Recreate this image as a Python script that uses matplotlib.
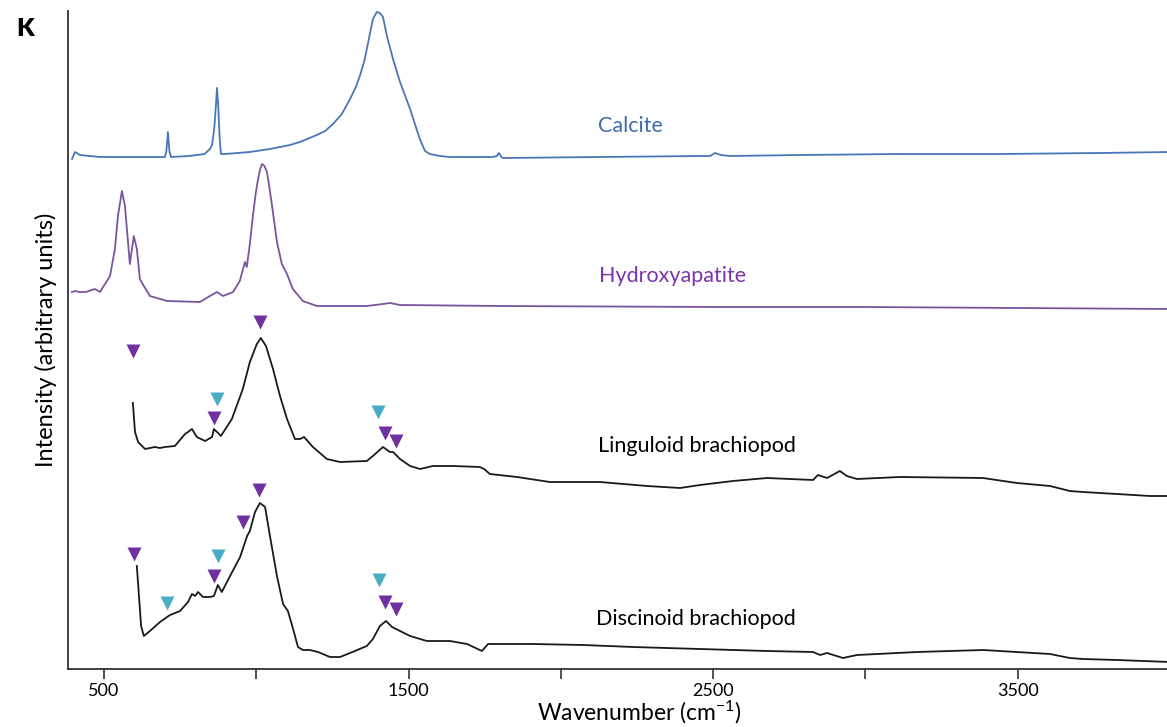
import matplotlib
matplotlib.use("Agg")
import matplotlib.pyplot as plt

plt.rcParams['font.family'] = ['Lato', 'DejaVu Sans']
plt.rcParams['mathtext.fontset'] = 'custom'
plt.rcParams['mathtext.rm'] = 'Lato'
plt.rcParams['mathtext.it'] = 'Lato:italic'

# ---------------- data (wavenumber, intensity in arbitrary units) ----------------
calcite_wn = [395, 405, 421, 487, 585, 684, 700, 705, 710, 715, 720, 780, 830, 848, 855, 862,
              868, 871, 875, 880, 884, 897, 979, 1045, 1111, 1143, 1199, 1226, 1252, 1281,
              1308, 1327, 1340, 1354, 1363, 1373, 1383, 1396, 1406, 1416, 1429, 1449, 1472,
              1505, 1537, 1554, 1570, 1603, 1636, 1777, 1790, 1797, 1805, 1810, 2128, 2457,
              2490, 2506, 2525, 2555, 2785, 3113, 3442, 3770, 4000]
calcite_int = [510, 517, 514, 512, 512, 512, 512, 518, 537, 518, 512, 513, 515, 520, 524, 540,
               565, 581, 565, 530, 515, 515, 517, 520, 524, 527, 534, 538, 545, 555,
               570, 582, 593, 607, 620, 635, 650, 657, 656, 652, 633, 610, 587,
               560, 530, 518, 515, 513, 512, 512, 513, 516, 512, 511, 512, 513,
               513, 516, 514, 513, 514, 515, 515, 516, 517]

hap_wn = [395, 405, 420, 440, 460, 470, 487, 520, 536, 546, 559, 569, 579, 585, 592, 598, 608,
          618, 631, 651, 707, 815, 848, 871, 891, 924, 946, 963, 969, 979, 989, 998, 1006,
          1013, 1019, 1027, 1035, 1043, 1052, 1068, 1084, 1101, 1120, 1153, 1199, 1363,
          1416, 1439, 1472, 1800, 2500, 3000, 3500, 4000]
hap_int = [377, 378, 377, 377, 379, 380, 377, 393, 420, 453, 478, 463, 427, 405, 420, 433, 420,
           390, 383, 373, 368, 367, 373, 377, 373, 377, 388, 407, 402, 425, 453, 475, 490,
           500, 505, 503, 497, 482, 463, 427, 405, 395, 380, 368, 363, 363,
           365, 366, 364, 363, 362, 362, 361, 360]

ling_wn = [595, 602, 612, 635, 667, 684, 700, 733, 766, 776, 789, 805, 832, 855, 861, 878, 884,
           920, 956, 979, 1002, 1015, 1032, 1055, 1078, 1101, 1127, 1144, 1157, 1186, 1232,
           1275, 1363, 1383, 1416, 1439, 1449, 1472, 1505, 1538, 1580, 1646, 1734, 1748,
           1767, 1856, 1964, 2128, 2283, 2391, 2457, 2565, 2677, 2828, 2844, 2874, 2916,
           2939, 2972, 3113, 3386, 3497, 3606, 3671, 3714, 3826, 3934, 4000]
ling_int = [266, 237, 227, 220, 222, 221, 222, 223, 235, 237, 240, 232, 228, 232, 240, 235, 233,
            250, 280, 307, 325, 331, 323, 300, 273, 250, 230, 230, 232, 222, 210,
            207, 208, 213, 222, 217, 217, 210, 203, 200, 203, 203, 202, 200,
            195, 192, 187, 187, 183, 181, 184, 188, 191, 189, 194, 191, 198,
            193, 190, 192, 191, 186, 183, 178, 177, 175, 173, 173]

disc_wn = [608, 615, 622, 631, 651, 684, 717, 750, 776, 789, 799, 809, 825, 848, 861, 874, 887,
           914, 947, 970, 979, 996, 1012, 1029, 1045, 1068, 1088, 1104, 1121, 1137, 1153,
           1176, 1203, 1242, 1275, 1308, 1363, 1383, 1406, 1426, 1446, 1472, 1505, 1560,
           1636, 1692, 1741, 1761, 1908, 2073, 2237, 2457, 2677, 2828, 2851, 2874, 2926,
           2972, 3169, 3386, 3606, 3671, 3714, 3826, 4000]
disc_int = [103, 73, 43, 33, 38, 47, 54, 58, 67, 75, 73, 77, 72, 72, 73, 84, 77,
            93, 112, 133, 138, 157, 166, 162, 133, 93, 65, 58, 40, 22, 19,
            19, 17, 12, 12, 16, 23, 30, 43, 48, 42, 38, 33, 28,
            28, 25, 18, 25, 25, 24, 22, 20, 18, 17, 14, 16, 11,
            14, 17, 19, 15, 11, 10, 9, 7]

# annotation markers: (wavenumber, intensity)
purple_mk_wn = [595, 861, 1012, 1423, 1459, 598, 861, 956, 1009, 1423, 1459]
purple_mk_int = [318, 251, 347, 236, 228, 115, 93, 147, 179, 67, 60]
cyan_mk_wn = [871, 1400, 707, 874, 1403]
cyan_mk_int = [270, 257, 66, 113, 89]

labels = ['Calcite', 'Hydroxyapatite', 'Linguloid brachiopod', 'Discinoid brachiopod']
label_wn = [2122, 2125, 2122, 2115]
label_int = [537, 387, 217, 44]
label_colors = ['#3d6bab', '#7a35aa', 'black', 'black']

xticks = [500, 1000, 1500, 2000, 2500, 3000, 3500]
xticklabels = ['500', '', '1500', '', '2500', '', '3500']

# ---------------- figure ----------------
W, H = 1167, 727
fig = plt.figure(figsize=(W / 100, H / 100), dpi=100)
ax = fig.add_axes([68 / W, (H - 669) / H, (W - 68) / W, (669 - 11) / H])

ax.plot(calcite_wn, calcite_int, color='#4a76b8', lw=1.3)
ax.plot(hap_wn, hap_int, color='#7b549e', lw=1.3)
ax.plot(ling_wn, ling_int, color='#1a1a1a', lw=1.3)
ax.plot(disc_wn, disc_int, color='#1a1a1a', lw=1.3)

ax.plot(purple_mk_wn, purple_mk_int, linestyle='none', marker='v', ms=10,
        color='#7030a0', mec='none')
ax.plot(cyan_mk_wn, cyan_mk_int, linestyle='none', marker='v', ms=10,
        color='#4bacc6', mec='none')

for t, xv, yv, c in zip(labels, label_wn, label_int, label_colors):
    ax.text(xv, yv, t, color=c, fontsize=15.5, ha='left', va='baseline')

ax.set_xlim(382, 3990)
ax.set_ylim(0, 658)
ax.set_xticks(xticks)
ax.set_xticklabels(xticklabels, fontsize=13)
ax.set_yticks([])
ax.tick_params(axis='x', direction='out', length=7, width=1.2, color='#333333', pad=3)
for s in ['top', 'right']:
    ax.spines[s].set_visible(False)
for s in ['left', 'bottom']:
    ax.spines[s].set_color('#333333')
    ax.spines[s].set_linewidth(1.3)

fig.text(639 / W, 1 - 721 / H, r'Wavenumber (cm$^{\mathregular{-1}}$)', fontsize=16.5,
         ha='center', va='baseline')
ax.set_ylabel('Intensity (arbitrary units)', fontsize=17, labelpad=8)

fig.text(25 / W, 1 - 29 / H, 'K', fontsize=18, fontweight='heavy', ha='center', va='center')

fig.savefig('out.png', dpi=100)
